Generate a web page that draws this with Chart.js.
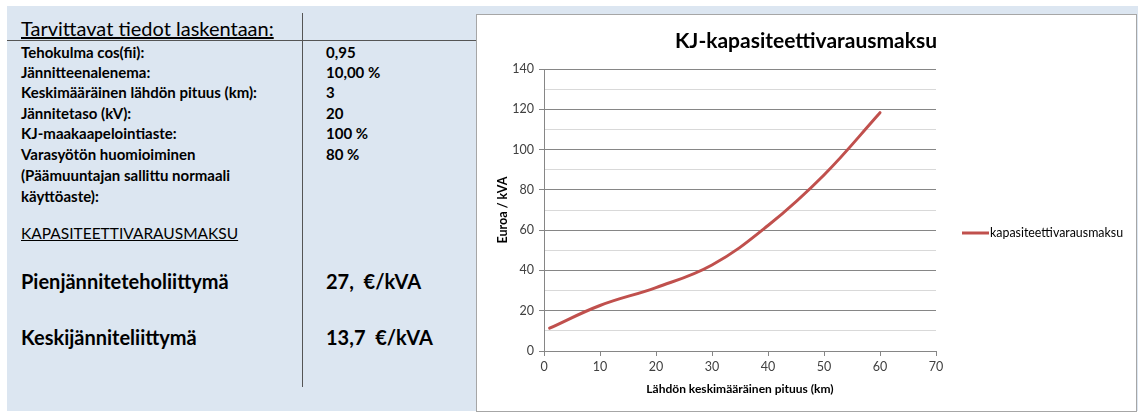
<!DOCTYPE html>
<html>
<head>
<meta charset="utf-8">
<script src="https://cdn.jsdelivr.net/npm/chart.js@4.4.1/dist/chart.umd.min.js"></script>
<style>
  html,body{margin:0;padding:0;background:#fff;}
  body{width:1138px;height:412px;position:relative;overflow:hidden;font-family:Lato,"Noto Sans",sans-serif;color:#000;}
  #panel{position:absolute;left:7px;top:6px;width:1131px;height:405px;background:#dce6f1;}
  .t{position:absolute;white-space:pre;line-height:1;}
  .b{font-weight:bold;}
  #hline{position:absolute;left:7px;top:40px;width:470px;height:0;border-top:1.5px solid #555;}
  #vline{position:absolute;left:302px;top:13px;width:0;height:374px;border-left:1.5px solid #555;}
  #box{position:absolute;left:476px;top:14px;width:659px;height:396px;background:#fff;border:1px solid #a6a6a6;}
  #box canvas{position:absolute;left:0;top:0;}
</style>
</head>
<body>
<div id="panel"></div>
<div id="hline"></div>
<div id="vline"></div>
<div id="left"></div>
<div id="box"><canvas id="c" width="659" height="396"></canvas></div>
<script>
// ---- data ----
const infoLabels = ["Tehokulma cos(fii):","Jännitteenalenema:","Keskimääräinen lähdön pituus (km):","Jännitetaso (kV):","KJ-maakaapelointiaste:","Varasyötön huomioiminen","(Päämuuntajan sallittu normaali","käyttöaste):"];
const infoValues = ["0,95","10,00 %","3","20","100 %","80 %","",""];
const feeLabels = ["Pienjänniteteholiittymä","Keskijänniteliittymä"];
const feeValues = ["27,  €/kVA","13,7  €/kVA"];
const lengthKm = [1,10,20,30,40,50,60];
const feeEurPerKva = [11.3,22.6,31.5,42.7,62.3,87.4,118.3];
const seriesName = "kapasiteettivarausmaksu";
const chartTitle = "KJ-kapasiteettivarausmaksu";
const xTitle = "Lähdön keskimääräinen pituus (km)";
const yTitle = "Euroa / kVA";

// ---- left panel ----
const left = document.getElementById('left');
function addText(txt, x, y, cls, size, extra){
  const d = document.createElement('div');
  d.className = 't ' + (cls||'');
  d.textContent = txt;
  d.style.left = x + 'px';
  d.style.top = (y - size/2) + 'px';
  d.style.fontSize = size + 'px';
  if (extra) Object.assign(d.style, extra);
  left.appendChild(d);
}
addText("Tarvittavat tiedot laskentaan:", 21, 28, '', 20, {textDecoration:'underline'});
const rowY = [52,72,92,113,133,154,175,196];
infoLabels.forEach((l,i)=>{
  addText(l, 21, rowY[i], 'b', 15);
  if (infoValues[i]) addText(infoValues[i], 326, rowY[i], 'b', 15);
});
addText("KAPASITEETTIVARAUSMAKSU", 21, 234, '', 15.5, {textDecoration:'underline'});
const feeY = [281, 337];
feeLabels.forEach((l,i)=>{
  addText(l, 21, feeY[i], 'b', 20);
  addText(feeValues[i], 326, feeY[i], 'b', 20);
});

// ---- chart ----
const FONT = 'Lato, "Noto Sans", sans-serif';
const W = 659, H = 396;
const PLOT_L = 67, PLOT_R = 459, PLOT_T = 54, PLOT_B = 336;
const overlayPlugin = {
  id:'overlay',
  afterDraw(chart){
    const ctx = chart.ctx;
    ctx.save();
    // title
    ctx.fillStyle = '#000';
    ctx.font = 'bold 21px ' + FONT;
    ctx.textAlign = 'center';
    ctx.textBaseline = 'middle';
    ctx.fillText(chartTitle, 329, 26);
    // legend
    const y = 218;
    ctx.strokeStyle = '#c0504d';
    ctx.lineWidth = 3;
    ctx.beginPath(); ctx.moveTo(485,y); ctx.lineTo(512,y); ctx.stroke();
    ctx.font = '12.4px ' + FONT;
    ctx.textAlign = 'left';
    ctx.fillText(seriesName, 513, y);
    ctx.restore();
  }
};
new Chart(document.getElementById('c'), {
  type:'line',
  data:{
    datasets:[{
      label: seriesName,
      data: lengthKm.map((x,i)=>({x:x, y:feeEurPerKva[i]})),
      borderColor:'#c0504d',
      backgroundColor:'#c0504d',
      borderWidth:3,
      pointRadius:0,
      tension:0.4,
      borderCapStyle:'round'
    }]
  },
  options:{
    responsive:false,
    animation:false,
    layout:{padding:{left:0,right:W-PLOT_R,top:PLOT_T,bottom:0}},
    plugins:{
      legend:{display:false},
      tooltip:{enabled:false},
      title:{display:false}
    },
    scales:{
      x:{
        type:'linear', min:0, max:70,
        ticks:{stepSize:10,color:'#404040',font:{family:FONT,size:12.5},padding:3,maxRotation:0},
        grid:{display:true,drawOnChartArea:false,color:'#868686',tickLength:5,tickColor:'#868686'},
        border:{display:true,color:'#868686'},
        title:{display:true,text:xTitle,color:'#000',font:{family:FONT,size:12,weight:'bold'},padding:{top:4,bottom:15}},
        afterFit(s){ s.height = H - PLOT_B; }
      },
      y:{
        type:'linear', min:0, max:140,
        ticks:{stepSize:10,color:'#404040',font:{family:FONT,size:12.5},padding:5,
          callback:(v)=> (v % 20 === 0 ? String(v) : '')},
        grid:{color:(c)=> (c.tick && c.tick.value % 20 === 0 ? '#868686' : '#d9d9d9'),
              tickColor:(c)=> (c.tick && c.tick.value % 20 === 0 ? '#868686' : 'rgba(0,0,0,0)'),
              tickLength:5, lineWidth:1},
        border:{display:true,color:'#868686'},
        title:{display:true,text:yTitle,color:'#000',font:{family:FONT,size:12.5,weight:'bold'},padding:{top:18,bottom:0}},
        afterFit(s){ s.width = PLOT_L; }
      }
    }
  },
  plugins:[overlayPlugin]
});
</script>
</body>
</html>
